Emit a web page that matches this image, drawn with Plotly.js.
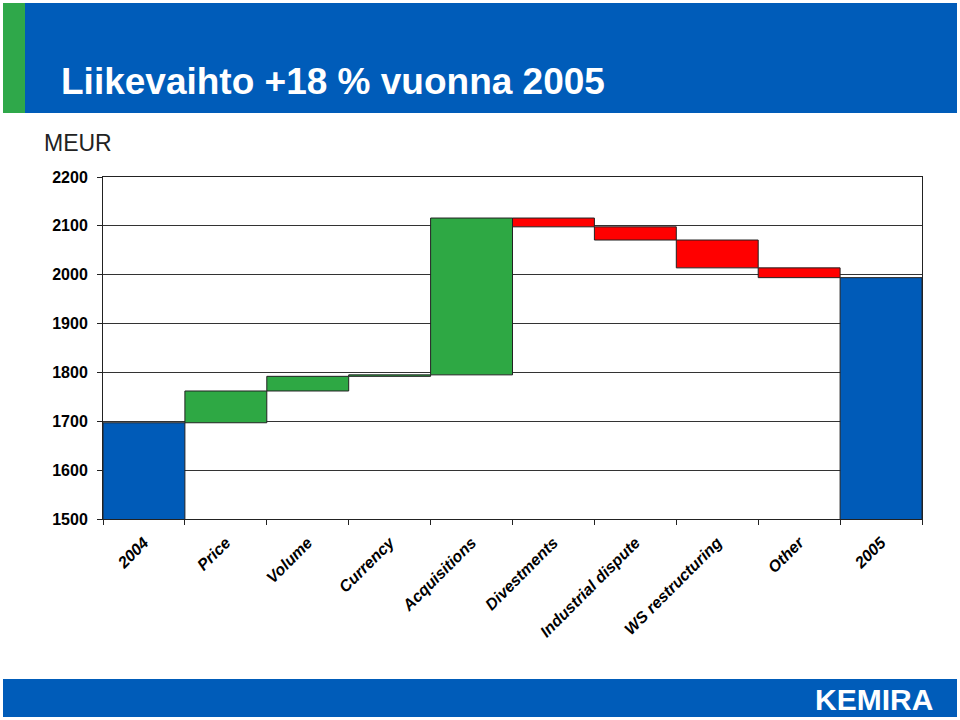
<!DOCTYPE html>
<html>
<head>
<meta charset="utf-8">
<script src="https://cdn.plot.ly/plotly-3.0.1.min.js"></script>
<style>html,body{margin:0;padding:0;background:#fff;}#chart{width:960px;height:720px;}</style>
</head>
<body>
<div id="chart"></div>
<script>
// Data
const categories = ["2004", "Price", "Volume", "Currency", "Acquisitions", "Divestments", "Industrial dispute", "WS restructuring", "Other", "2005"];
const values = [1697, 65, 30, 3, 321, -18, -27, -57, -20, 1994];
const measures = ["absolute", "relative", "relative", "relative", "relative", "relative", "relative", "relative", "relative", "absolute"];
const yTickValues = [1500, 1600, 1700, 1800, 1900, 2000, 2100, 2200];

const titleText = "Liikevaihto +18 % vuonna 2005";
const unitText = "MEUR";
const logoText = "KEMIRA";

// plot-area geometry helpers (pixel -> paper)
const PL = 103, PR = 922, PT = 177, PB = 519;
const px = x => (x - PL) / (PR - PL);
const py = y => (PB - y) / (PB - PT);

const BLUE = "#005BB8", GREEN = "#2EA844", RED = "#FF0000";
const FONT = "Liberation Sans, Arial, sans-serif";

const trace = {
  type: "waterfall",
  x: categories,
  y: values,
  measure: measures,
  increasing: {marker: {color: GREEN, line: {color: "#222", width: 1}}},
  decreasing: {marker: {color: RED, line: {color: "#222", width: 1}}},
  totals: {marker: {color: BLUE, line: {color: "#222", width: 1}}},
  connector: {visible: false},
  hoverinfo: "skip",
  textinfo: "none"
};

const layout = {
  width: 960, height: 720,
  margin: {l: PL, r: 960 - PR, t: PT, b: 720 - PB, pad: 0},
  paper_bgcolor: "#fff", plot_bgcolor: "#fff",
  showlegend: false,
  waterfallgap: 0,
  title: {
    text: titleText,
    font: {family: FONT, size: 37, color: "#fff", weight: "bold"},
    x: 61 / 960, xanchor: "left", xref: "container",
    y: 1 - 81 / 720, yanchor: "middle", yref: "container"
  },
  xaxis: {
    type: "category",
    tickson: "boundaries",
    ticks: "outside", ticklen: 5, tickcolor: "#222",
    showline: true, linecolor: "#222", linewidth: 1, mirror: true,
    showgrid: false,
    tickangle: -45,
    ticklabelstandoff: 7,
    tickfont: {family: FONT, size: 16, color: "#000", weight: "bold", style: "italic"}
  },
  yaxis: {
    range: [1500, 2200],
    tickvals: yTickValues,
    ticks: "outside", ticklen: 5, tickcolor: "#222",
    showline: true, linecolor: "#222", linewidth: 1, mirror: true,
    showgrid: true, gridcolor: "#333", gridwidth: 1,
    zeroline: false,
    ticklabelstandoff: 6,
    tickfont: {family: FONT, size: 16, color: "#000", weight: "bold"}
  },
  shapes: [
    {type: "rect", xref: "paper", yref: "paper", x0: px(3), x1: px(957), y0: py(113), y1: py(3),
     fillcolor: "#005CB9", line: {width: 0}, layer: "below"},
    {type: "rect", xref: "paper", yref: "paper", x0: px(3), x1: px(25), y0: py(113), y1: py(3),
     fillcolor: "#2FA84A", line: {width: 0}, layer: "below"},
    {type: "rect", xref: "paper", yref: "paper", x0: px(3), x1: px(957), y0: py(717), y1: py(679),
     fillcolor: "#005CB9", line: {width: 0}, layer: "below"}
  ],
  annotations: [
    {text: unitText, xref: "paper", yref: "paper", x: px(42), y: py(143), xanchor: "left", yanchor: "middle",
     showarrow: false, font: {family: FONT, size: 23, color: "#222"}},
    {text: logoText, xref: "paper", yref: "paper", x: px(935), y: py(699), xanchor: "right", yanchor: "middle",
     showarrow: false, font: {family: FONT, size: 30, color: "#fff", weight: "bold"}}
  ]
};

Plotly.newPlot("chart", [trace], layout, {staticPlot: true, displayModeBar: false});
</script>
</body>
</html>
